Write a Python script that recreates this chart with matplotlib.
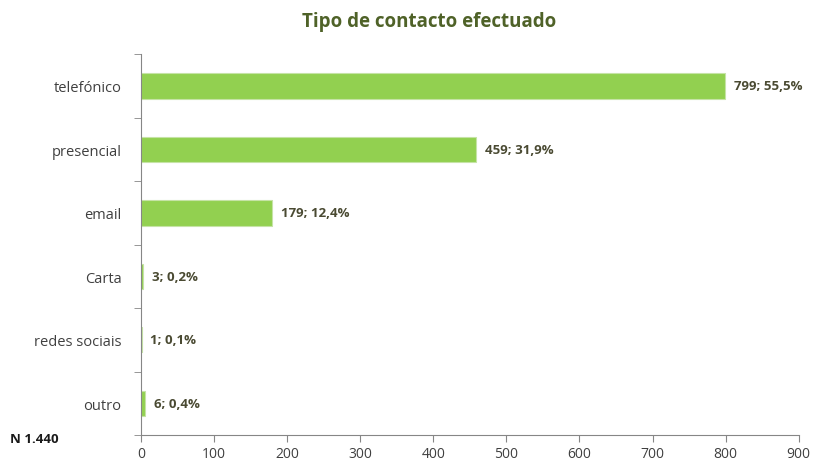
import numpy as np
import matplotlib.pyplot as plt

# dados
categorias = ['telefónico', 'presencial', 'email', 'Carta', 'redes sociais', 'outro']
valores = [799, 459, 179, 3, 1, 6]
percentagens = ['55,5%', '31,9%', '12,4%', '0,2%', '0,1%', '0,4%']
xticks = [0, 100, 200, 300, 400, 500, 600, 700, 800, 900]

plt.rcParams['font.family'] = ['Open Sans', 'DejaVu Sans']

fig = plt.figure(figsize=(8.15, 4.64), dpi=100)
ax = fig.add_axes([0.173, 0.0603, 0.807, 0.821])

y = np.arange(len(categorias))
ax.barh(y, valores, height=0.4, color='#92D050', edgecolor='#C6E3A6', linewidth=0.8)

for yi, v, p in zip(y, valores, percentagens):
    ax.text(v + 12, yi, f'{v}; {p}', va='center', ha='left', fontsize=9.5,
            fontweight='bold', color='#4A4A32')

ax.set_ylim(len(categorias) - 0.5, -0.5)
ax.set_xlim(0, 900)
ax.set_xticks(xticks)
ax.set_yticks(y)
ax.set_yticklabels(categorias)
ax.set_yticks(np.arange(len(categorias) + 1) - 0.5, minor=True)
ax.tick_params(axis='y', which='major', length=0, pad=14, labelsize=10.5, labelcolor='#404040')
ax.tick_params(axis='y', which='minor', length=5, color='#868686', direction='out')
ax.tick_params(axis='x', length=5, color='#868686', labelsize=10, labelcolor='#404040', pad=3)

for s in ['top', 'right']:
    ax.spines[s].set_visible(False)
for s in ['left', 'bottom']:
    ax.spines[s].set_color('#868686')

fig.text(0.527, 0.952, 'Tipo de contacto efectuado', ha='center', va='center',
         fontsize=13.5, fontweight='bold', color='#4F6228')
fig.text(0.012, 0.052, 'N 1.440', ha='left', va='center', fontsize=9.5,
         fontweight='bold', color='#1A1A1A')

fig.savefig('out.png', dpi=100)
